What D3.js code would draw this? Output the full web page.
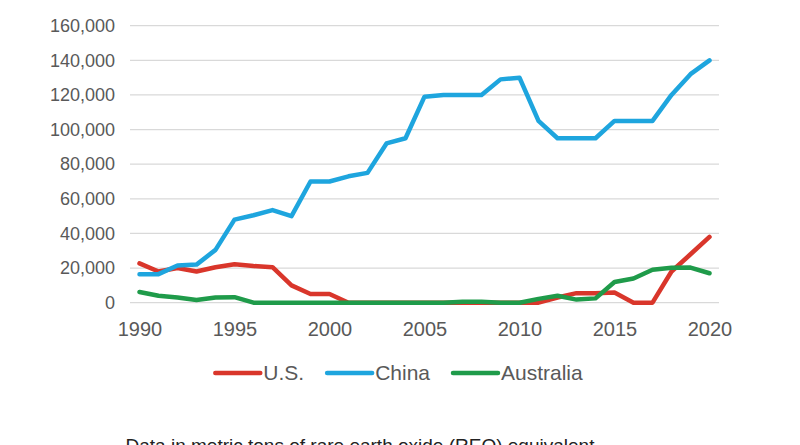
<!DOCTYPE html>
<html>
<head>
<meta charset="utf-8">
<script src="https://cdn.jsdelivr.net/npm/d3@7"></script>
<style>
  html, body { margin: 0; padding: 0; background: #ffffff; }
  svg { display: block; font-family: "Liberation Sans", Arial, sans-serif; }
</style>
</head>
<body>
<svg id="chart" width="800" height="445"></svg>
<script>
const years = d3.range(1990, 2021);
const usValues = [22700, 18000, 20000, 18000, 20500, 22200, 21200, 20500, 10000, 5000,
                  5000, 0, 0, 0, 0, 0, 0, 0, 0, 0,
                  0, 0, 3000, 5500, 5400, 5900, 0, 0, 18000, 28000, 38000];
const chinaValues = [16500, 16500, 21500, 22000, 30500, 48000, 50500, 53500, 50000, 70000,
                     70000, 73000, 75000, 92000, 95000, 119000, 120000, 120000, 120000, 129000,
                     130000, 105000, 95000, 95000, 95000, 105000, 105000, 105000, 120000, 132000, 140000];
const australiaValues = [6200, 4000, 3000, 1500, 3000, 3200, 0, 0, 0, 0,
                         0, 0, 0, 0, 0, 0, 0, 600, 600, 0,
                         0, 2200, 4000, 1800, 2500, 12000, 14000, 19000, 20200, 20300, 17000];
const seriesNames = ["U.S.", "China", "Australia"];
const seriesColors = ["#d9362b", "#1ea5de", "#1f9b4a"];
const yTicks = [0, 20000, 40000, 60000, 80000, 100000, 120000, 140000, 160000];
const xTickLabels = [1990, 1995, 2000, 2005, 2010, 2015, 2020];
const footnote = "Data in metric tons of rare earth oxide (REO) equivalent";

const series = [usValues, chinaValues, australiaValues];

const svg = d3.select("#chart");
const textColor = "#595959";

const x = d3.scalePoint().domain(years).range([130, 719]).padding(0.5);
const y = d3.scaleLinear().domain([0, 160000]).range([302.7, 25.7]);

// gridlines
svg.append("g").selectAll("line").data(yTicks).join("line")
  .attr("x1", 130).attr("x2", 719)
  .attr("y1", d => y(d)).attr("y2", d => y(d))
  .attr("stroke", "#d9d9d9").attr("stroke-width", 1.3);

// y axis labels
const yAxis = d3.axisLeft(y).tickValues(yTicks).tickSize(0).tickPadding(0)
  .tickFormat(d3.format(","));
const gy = svg.append("g").attr("transform", "translate(115,0)").call(yAxis);
gy.select(".domain").remove();
gy.selectAll("text").attr("fill", textColor).attr("font-size", 18)
  .attr("font-family", "Liberation Sans, Arial, sans-serif");

// x axis labels
const xAxis = d3.axisBottom(x).tickValues(xTickLabels).tickSize(0).tickPadding(0)
  .tickFormat(d3.format("d"));
const gx = svg.append("g").attr("transform", "translate(0,322)").call(xAxis);
gx.select(".domain").remove();
gx.selectAll("text").attr("fill", textColor).attr("font-size", 20)
  .attr("font-family", "Liberation Sans, Arial, sans-serif");

// lines
const line = d3.line().x((d, i) => x(years[i])).y(d => y(d)).curve(d3.curveLinear);
series.forEach((vals, i) => {
  svg.append("path")
    .datum(vals)
    .attr("d", line)
    .attr("fill", "none")
    .attr("stroke", seriesColors[i])
    .attr("stroke-width", 4.5)
    .attr("stroke-linejoin", "round")
    .attr("stroke-linecap", "round");
});

// legend
const legend = svg.append("g");
const lineLen = 45, textGap = 3, itemGap = 23, legendY = 373;
let cursor = 0;
const items = seriesNames.map((name, i) => {
  const g = legend.append("g");
  g.append("line").attr("x1", 0).attr("x2", lineLen).attr("y1", 0).attr("y2", 0)
    .attr("stroke", seriesColors[i]).attr("stroke-width", 4.5).attr("stroke-linecap", "round");
  const t = g.append("text").attr("x", lineLen + textGap).attr("y", 0).attr("dy", "0.35em")
    .attr("font-size", 21).attr("fill", textColor).text(name);
  const w = lineLen + textGap + t.node().getComputedTextLength();
  g.attr("transform", `translate(${cursor},0)`);
  cursor += w + itemGap;
  return g;
});
const totalW = cursor - itemGap;
legend.attr("transform", `translate(${399 - totalW / 2},${legendY})`);

// footnote
svg.append("text").attr("x", 360).attr("y", 452)
  .attr("text-anchor", "middle").attr("font-size", 19).attr("fill", "#222222")
  .text(footnote);
</script>
</body>
</html>
